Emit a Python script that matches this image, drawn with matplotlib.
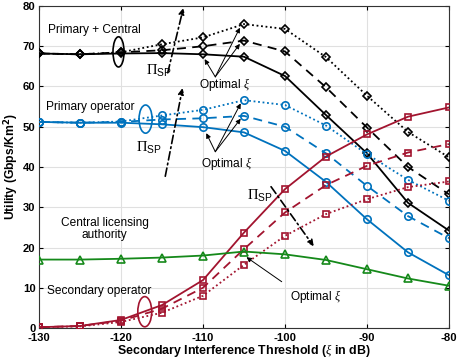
import matplotlib
matplotlib.use("Agg")
import matplotlib.pyplot as plt
from matplotlib.patches import Ellipse

plt.rcParams['font.family'] = ['Liberation Sans', 'DejaVu Sans']
plt.rcParams['mathtext.fontset'] = 'custom'
plt.rcParams['mathtext.rm'] = 'Liberation Serif'
plt.rcParams['mathtext.it'] = 'Liberation Serif:italic'
plt.rcParams['mathtext.sf'] = 'Liberation Sans'

xi = [-130, -125, -120, -115, -110, -105, -100, -95, -90, -85, -80]

pc_solid  = [68.2, 68.0, 68.2, 68.3, 68.0, 67.4, 62.6, 52.9, 43.4, 31.1, 24.2]
pc_dashed = [68.2, 68.0, 68.5, 69.0, 70.0, 71.4, 68.7, 59.8, 49.8, 40.0, 33.2]
pc_dotted = [68.2, 68.0, 68.5, 70.5, 72.2, 75.5, 74.3, 67.3, 57.7, 48.7, 42.4]

po_solid  = [51.2, 51.0, 51.0, 50.6, 49.9, 48.6, 44.0, 36.3, 27.0, 18.8, 13.1]
po_dashed = [51.2, 51.0, 51.2, 51.8, 52.1, 52.7, 50.0, 43.4, 35.3, 27.8, 22.3]
po_dotted = [51.2, 51.0, 51.3, 52.8, 54.2, 56.6, 55.4, 50.3, 43.2, 36.8, 31.6]

so_solid  = [0.2, 0.5, 2.0, 5.7, 11.9, 23.7, 34.5, 42.6, 48.1, 52.5, 54.8]
so_dashed = [0.2, 0.5, 1.8, 4.8, 10.0, 19.6, 28.7, 35.5, 40.3, 43.6, 45.7]
so_dotted = [0.2, 0.4, 1.5, 3.8, 8.0, 15.7, 22.9, 28.3, 32.0, 35.0, 36.4]

cla = [17.0, 17.0, 17.2, 17.5, 18.0, 19.0, 18.3, 16.9, 14.6, 12.3, 10.5]

xticks = [-130, -120, -110, -100, -90, -80]
yticks = [0, 10, 20, 30, 40, 50, 60, 70, 80]

BLACK = 'black'
BLUE = '#0072BD'
RED = '#A2142F'
GREEN = '#15891A'

fig = plt.figure(figsize=(4.57, 3.61), dpi=100)
ax = fig.add_axes([0.0853, 0.0914, 0.8972, 0.892])

dash = (0, (5, 3.5))
dot = (0, (1, 1.5))
lw = 1.3

def series(y, color, marker, ls, msz):
    ax.plot(xi, y, color=color, ls=ls, lw=lw, marker=marker, ms=msz,
            mfc='none', mec=color, mew=1.2, zorder=3)

for y, ls in [(pc_solid, '-'), (pc_dashed, dash), (pc_dotted, dot)]:
    series(y, BLACK, 'D', ls, 4.0)
for y, ls in [(po_solid, '-'), (po_dashed, dash), (po_dotted, dot)]:
    series(y, BLUE, 'o', ls, 5.3)
for y, ls in [(so_solid, '-'), (so_dashed, dash), (so_dotted, dot)]:
    series(y, RED, 's', ls, 4.3)
series(cla, GREEN, '^', '-', 5.5)

ax.set_xlim(-130, -80)
ax.set_ylim(0, 80)
ax.set_xticks(xticks)
ax.set_yticks(yticks)
ax.set_xticklabels([str(t) for t in xticks], fontweight='bold', fontsize=8.1)
ax.set_yticklabels([str(t) for t in yticks], fontweight='bold', fontsize=8.1)
ax.tick_params(axis='x', pad=3.5)
ax.tick_params(axis='y', pad=2.5)
ax.tick_params(direction='in', length=3, top=True, right=True, width=0.8)
ax.grid(True, color='#e0e0e0', lw=0.8, zorder=0)
ax.set_axisbelow(True)
for s in ax.spines.values():
    s.set_linewidth(0.8)
    s.set_color('#333333')

ax.set_xlabel(r'Secondary Interference Threshold ($\xi$ in dB)', fontweight='bold', fontsize=8.9, labelpad=-0.8)
ax.set_ylabel(r'Utility (Gbps/Km$^\mathbf{2}$)', fontweight='bold', fontsize=8.7, labelpad=2)

fs = 8.6
ax.text(-123.2, 74, 'Primary + Central', fontsize=fs, ha='center', va='center')
ax.text(-123.7, 54.8, 'Primary operator', fontsize=fs, ha='center', va='center')
ax.text(-122, 24.6, 'Central licensing\nauthority', fontsize=fs, ha='center', va='center', linespacing=1.05)
ax.text(-122.6, 9.3, 'Secondary operator', fontsize=fs, ha='center', va='center')

# ellipses
ax.add_patch(Ellipse((-120.3, 68.6), 1.35, 7.5, fill=False, ec=BLACK, lw=1.2, zorder=4))
ax.add_patch(Ellipse((-117.0, 51.9), 1.6, 7.0, fill=False, ec=BLUE, lw=1.2, zorder=4))
ax.add_patch(Ellipse((-117.1, 4.05), 1.7, 7.5, fill=False, ec=RED, lw=1.2, zorder=4))

# Pi_SP arrows
def pi_arrow(x0, y0, x1, y1):
    ax.annotate('', xy=(x1, y1), xytext=(x0, y0),
                arrowprops=dict(arrowstyle='-|>', color='black', lw=1.2,
                                linestyle=(0, (5, 2, 1, 2)), mutation_scale=9,
                                shrinkA=0, shrinkB=0), zorder=5, annotation_clip=False)

pi_txt = r'$\Pi_{\mathsf{SP}}$'
pi_fs = 10.5
pi_arrow(-114.3, 63.4, -112.4, 79.5)
ax.text(-115.4, 63.8, pi_txt, fontsize=pi_fs, ha='center', va='center')
pi_arrow(-114.6, 37.7, -112.5, 59.6)
ax.text(-116.6, 44.8, pi_txt, fontsize=pi_fs, ha='center', va='center')
pi_arrow(-101.7, 35.1, -96.5, 20.3)
ax.text(-103.0, 32.8, pi_txt, fontsize=pi_fs, ha='center', va='center')

# Optimal xi annotations
def opt(tx, ty, src, targets):
    ax.text(tx, ty, r'Optimal $\xi$', fontsize=fs, ha='center', va='center')
    for (x1, y1) in targets:
        ax.annotate('', xy=(x1, y1), xytext=src,
                    arrowprops=dict(arrowstyle='-|>', color='black', lw=0.7,
                                    mutation_scale=7, shrinkA=0, shrinkB=0), zorder=5)

opt(-107.4, 60.5, (-108.5, 62.4), [(-109.8, 66.8), (-105.5, 74.6), (-105.5, 70.6)])
opt(-107.1, 40.9, (-108.5, 43.8), [(-109.6, 48.4), (-105.4, 55.8), (-105.4, 52.0)])
opt(-96.3, 7.8, (-100.4, 11.5), [(-104.7, 17.6)])

fig.savefig('out.png', dpi=100)
